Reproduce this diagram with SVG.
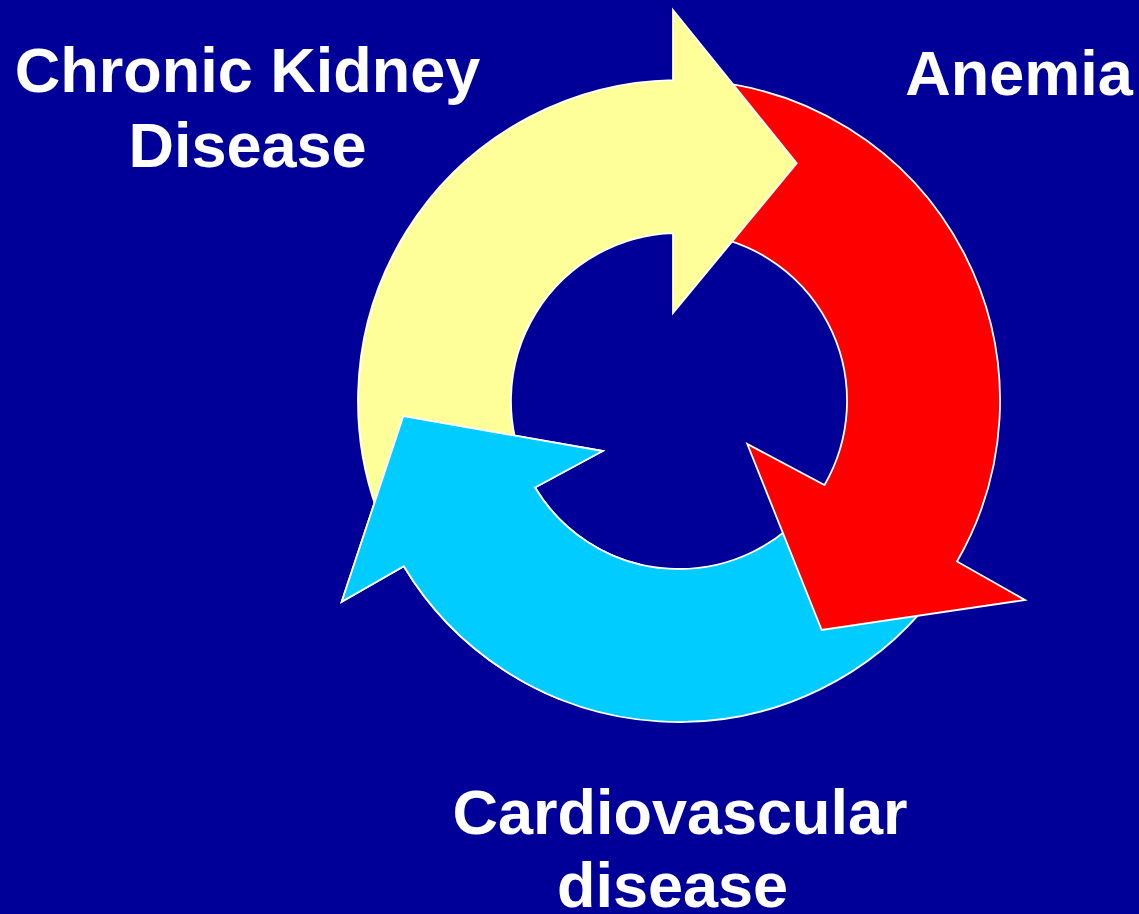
<svg xmlns="http://www.w3.org/2000/svg" xmlns:xlink="http://www.w3.org/1999/xlink" width="1139" height="914" viewBox="0 0 1139 914">
<style>
.arrow{stroke:#FFFFFF;stroke-width:1.8;stroke-linejoin:miter}
.yellow{fill:#FFFF99}
.red{fill:#FF0000}
.cyan{fill:#00CCFF}
.label{font-family:"Liberation Sans",Arial,sans-serif;font-weight:bold;font-size:63px;fill:#FFFFFF;text-anchor:middle}
</style>
<defs>
<path id="cyanShape" class="arrow cyan" d="M 811.4 504.4 L 932 598.6 A 321 321 0 0 1 403.8 566.3 L 341.7 601.7 L 403.3 416 L 602.7 451 L 535 487.5 A 168 168 0 0 0 811.4 504.4 Z"/>
<clipPath id="clipLeft"><rect x="300" y="380" width="340" height="320"/></clipPath>
</defs>
<rect x="0" y="0" width="1139" height="914" fill="#000099"/>
<g id="connectors">
<g id="arrow-cyan"><use xlink:href="#cyanShape"/></g>
<g id="arrow-red"><path class="arrow red" d="M 693.6 233.6 L 707 81.2 A 321 321 0 0 1 957 561.5 L 1025 600 L 821.7 630 L 747.3 444 L 824.5 485 A 168 168 0 0 0 693.6 233.6 Z"/></g>
<g id="arrow-yellow"><path class="arrow yellow" d="M 526.7 472 L 388.1 536.7 A 321 321 0 0 1 673 80.06 L 673 10 L 796.7 163.3 L 673 313 L 673 233.1 A 168 168 0 0 0 526.7 472 Z"/></g>
<g id="arrow-cyan-head"><use xlink:href="#cyanShape" clip-path="url(#clipLeft)"/></g>
</g>
<g id="node-ckd">
<text class="label" x="247.5" y="92">Chronic Kidney</text>
<text class="label" x="247.5" y="167">Disease</text>
</g>
<g id="node-anemia">
<text class="label" x="1019" y="95">Anemia</text>
</g>
<g id="node-cvd">
<text class="label" x="680" y="834">Cardiovascular</text>
<text class="label" x="672.5" y="907">disease</text>
</g>
</svg>
